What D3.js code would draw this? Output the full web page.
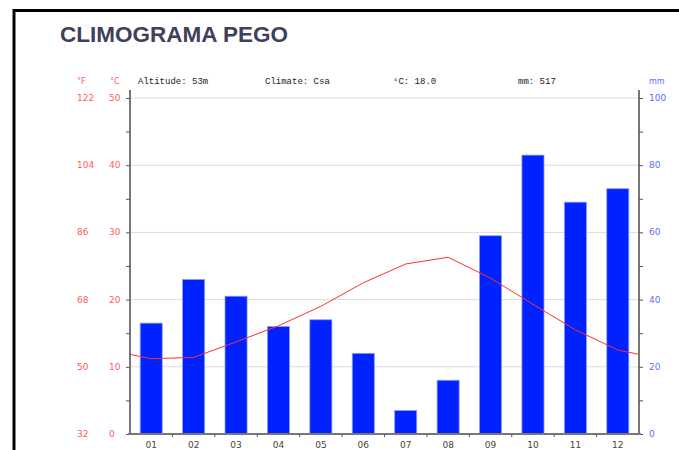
<!DOCTYPE html>
<html>
<head>
<meta charset="utf-8">
<script src="https://cdn.jsdelivr.net/npm/d3@7"></script>
<style>
  body { margin: 0; background: #fff; }
  svg { display: block; }
</style>
</head>
<body>
<script>
var months = ["01", "02", "03", "04", "05", "06", "07", "08", "09", "10", "11", "12"];
var precip = [33, 46, 41, 32, 34, 24, 7, 16, 59, 83, 69, 73];
var temps = [11.2, 11.4, 13.7, 16.1, 19.0, 22.5, 25.3, 26.3, 23.2, 19.3, 15.5, 12.5];
var celsiusTicks = [0, 10, 20, 30, 40, 50];
var fahrTicks = [32, 50, 68, 86, 104, 122];
var mmTicks = [0, 20, 40, 60, 80, 100];
var infoTexts = ["Altitude: 53m", "Climate: Csa", "°C: 18.0", "mm: 517"];

var W = 679, H = 450;
// plot box (window.top is reserved, so use other names)
var pLeft = 130, pRight = 639, pTop = 98, pBottom = 434;

var svg = d3.select("body").append("svg")
  .attr("width", W)
  .attr("height", H);

// frame
svg.append("path")
  .attr("d", "M14,460 L14,10.5 L690,10.5")
  .attr("fill", "none")
  .attr("stroke", "#000")
  .attr("stroke-width", 3);

svg.append("text")
  .attr("x", 60)
  .attr("y", 42)
  .attr("font-family", "Liberation Sans, Arial, sans-serif")
  .attr("font-weight", "bold")
  .attr("font-size", 22.5)
  .attr("fill", "#3f3f5e")
  .text("CLIMOGRAMA PEGO");

var x = d3.scaleBand()
  .domain(months)
  .range([pLeft, pRight])
  .paddingInner(0.48)
  .paddingOuter(0.24);

var yT = d3.scaleLinear().domain([0, 50]).range([pBottom, pTop]);
var yP = d3.scaleLinear().domain([0, 100]).range([pBottom, pTop]);

// gridlines
svg.append("g")
  .selectAll("line")
  .data(celsiusTicks)
  .enter()
  .append("line")
    .attr("x1", pLeft)
    .attr("x2", pRight)
    .attr("y1", d => yT(d))
    .attr("y2", d => yT(d))
    .attr("stroke", "#dcdcdc")
    .attr("stroke-width", 1);

// bars
svg.append("g")
  .selectAll("rect")
  .data(precip)
  .enter()
  .append("rect")
    .attr("x", (d, i) => x(months[i]))
    .attr("y", d => yP(d))
    .attr("width", x.bandwidth())
    .attr("height", d => pBottom - yP(d))
    .attr("fill", "#0022ff")
    .attr("stroke", "#8c9bff")
    .attr("stroke-width", 0.8);

// temperature line, wrapped round the year and clipped to the plot
svg.append("clipPath")
  .attr("id", "plotclip")
  .append("rect")
    .attr("x", pLeft)
    .attr("y", pTop)
    .attr("width", pRight - pLeft)
    .attr("height", pBottom - pTop);

var step = x.step();
var pts = temps.map((t, i) => [x(months[i]) + x.bandwidth() / 2, t]);
pts.unshift([pts[0][0] - step, temps[11]]);
pts.push([pts[12][0] + step, temps[0]]);

var line = d3.line()
  .x(d => d[0])
  .y(d => yT(d[1]));

svg.append("path")
  .datum(pts)
  .attr("clip-path", "url(#plotclip)")
  .attr("d", line)
  .attr("fill", "none")
  .attr("stroke", "#ff3030")
  .attr("stroke-width", 1)
  .attr("stroke-linejoin", "round");

// axes
var leftAxis = svg.append("g")
  .attr("transform", "translate(" + pLeft + ",0)")
  .call(d3.axisLeft(yT).tickValues(d3.range(0, 51, 5)).tickSize(4).tickFormat(""));
var rightAxis = svg.append("g")
  .attr("transform", "translate(" + pRight + ",0)")
  .call(d3.axisRight(yP).tickValues(d3.range(0, 101, 10)).tickSize(4).tickFormat(""));
var bottomAxis = svg.append("g")
  .attr("transform", "translate(0," + pBottom + ")")
  .call(d3.axisBottom(x).tickSize(0).tickPadding(8));

[leftAxis, rightAxis, bottomAxis].forEach(function (a) {
  a.select(".domain").attr("stroke", "#777").attr("stroke-width", 2);
  a.selectAll(".tick line").attr("stroke", "#555");
});
leftAxis.select(".domain").attr("d", "M0," + (pTop - 8) + "V" + (pBottom + 1));
rightAxis.select(".domain").attr("d", "M0," + (pTop - 8) + "V" + (pBottom + 1));
bottomAxis.select(".domain").attr("d", "M" + (pLeft - 2) + ",0H" + (pRight + 2));
bottomAxis.selectAll("text")
  .attr("font-family", "DejaVu Sans, sans-serif")
  .attr("font-size", 9)
  .attr("fill", "#444");

// small ticks between months
svg.append("g")
  .selectAll("line")
  .data(months.slice(1))
  .enter()
  .append("line")
    .attr("x1", d => x(d) - step * 0.24)
    .attr("x2", d => x(d) - step * 0.24)
    .attr("y1", pBottom)
    .attr("y2", pBottom + 3)
    .attr("stroke", "#555");

// tick labels
var lab = svg.append("g")
  .attr("font-family", "DejaVu Sans, sans-serif")
  .attr("font-size", 9);

lab.selectAll(".c")
  .data(celsiusTicks)
  .enter()
  .append("text")
    .attr("x", 109)
    .attr("y", d => yT(d) + 3)
    .attr("fill", "#ff5c5c")
    .text(d => d);

lab.selectAll(".f")
  .data(fahrTicks)
  .enter()
  .append("text")
    .attr("x", 77)
    .attr("y", (d, i) => yT(celsiusTicks[i]) + 3)
    .attr("fill", "#ff5c5c")
    .text(d => d);

lab.selectAll(".m")
  .data(mmTicks)
  .enter()
  .append("text")
    .attr("x", 649)
    .attr("y", d => yP(d) + 3)
    .attr("fill", "#5c6cff")
    .text(d => d);

lab.append("text").attr("x", 77).attr("y", 84).attr("fill", "#ff5c5c").attr("font-size", 8).text("°F");
lab.append("text").attr("x", 110).attr("y", 84).attr("fill", "#ff5c5c").attr("font-size", 8).text("°C");
lab.append("text").attr("x", 649).attr("y", 84).attr("fill", "#5c6cff").attr("font-size", 8).text("mm");

// info line
var infoX = [138, 265, 393, 518];
svg.append("g")
  .selectAll("text")
  .data(infoTexts)
  .enter()
  .append("text")
    .attr("x", (d, i) => infoX[i])
    .attr("y", 84)
    .attr("font-family", "Liberation Mono, monospace")
    .attr("font-size", 9)
    .attr("fill", "#222")
    .text(d => d);
</script>
</body>
</html>
